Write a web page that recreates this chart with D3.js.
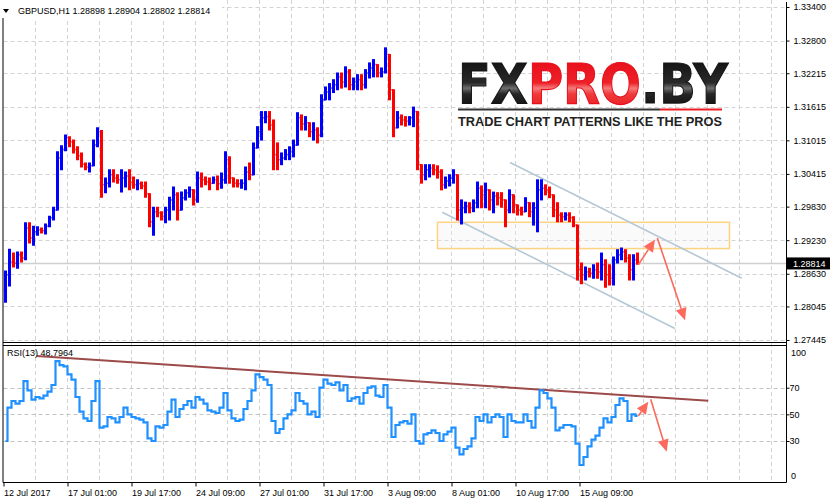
<!DOCTYPE html>
<html>
<head>
<meta charset="utf-8">
<script src="https://d3js.org/d3.v7.min.js"></script>
<style>
  body { margin: 0; background: #fff; }
  svg { display: block; font-family: "Liberation Sans", Arial, sans-serif; }
</style>
</head>
<body>
<svg id="chart" width="830" height="504"></svg>
<script>
// header quote
const symbol = 'GBPUSD,H1';
const lastQuote = ['1.28898', '1.28904', '1.28802', '1.28814'];
const lastPrice = 1.28814;

// time axis (hours from first bar) and labels
const timeHours = [0, 64, 128, 192, 256, 320, 384, 448, 512, 576];
const timeLabels = ['12 Jul 2017', '17 Jul 01:00', '19 Jul 17:00', '24 Jul 09:00', '27 Jul 01:00',
  '31 Jul 17:00', '3 Aug 09:00', '8 Aug 01:00', '10 Aug 17:00', '15 Aug 09:00'];

// price axis
const priceTicks = [1.33400, 1.32800, 1.32215, 1.31615, 1.31015, 1.30415, 1.29830, 1.29230, 1.28630, 1.28045, 1.27445];
const rsiGrid = [70, 50, 30];
const rsiLast = '48.7964';

// 4-hour bars
const barOpen = [
  1.2834, 1.2861, 1.2884, 1.2882, 1.2897, 1.2891, 1.2945, 1.2927, 1.2938, 1.2941,
  1.2940, 1.2948, 1.2963, 1.2977, 1.3070, 1.3085, 1.3106, 1.3099, 1.3085, 1.3074,
  1.3059, 1.3054, 1.3056, 1.3093, 1.3117, 1.3022, 1.3025, 1.3040, 1.3034, 1.3031,
  1.3034, 1.3038, 1.3027, 1.3022, 1.3024, 1.3020, 1.3006, 1.2956, 1.2974, 1.2972,
  1.2966, 1.2977, 1.2995, 1.3004, 1.2977, 1.2999, 1.3008, 1.3013, 1.2995, 1.3034,
  1.3031, 1.3027, 1.3025, 1.3031, 1.3024, 1.3031, 1.3067, 1.3034, 1.3025, 1.3024,
  1.3025, 1.3045, 1.3040, 1.3088, 1.3117, 1.3142, 1.3144, 1.3129, 1.3076, 1.3067,
  1.3070, 1.3076, 1.3081, 1.3093, 1.3142, 1.3131, 1.3133, 1.3117, 1.3120, 1.3111,
  1.3174, 1.3188, 1.3195, 1.3201, 1.3215, 1.3206, 1.3224, 1.3201, 1.3206, 1.3210,
  1.3201, 1.3222, 1.3231, 1.3237, 1.3222, 1.3224, 1.3255, 1.3192, 1.3124, 1.3142,
  1.3138, 1.3136, 1.3142, 1.3153, 1.3058, 1.3040, 1.3049, 1.3052, 1.3049, 1.3045,
  1.3022, 1.3029, 1.3034, 1.3040, 1.2977, 1.2981, 1.2984, 1.2981, 1.2990, 1.3016,
  1.3004, 1.3013, 1.2995, 1.3002, 1.2999, 1.2995, 1.2977, 1.3004, 1.2986, 1.2977,
  1.2974, 1.2990, 1.2974, 1.2981, 1.3013, 1.3016, 1.3013, 1.3004, 1.2977, 1.2968,
  1.2965, 1.2968, 1.2963, 1.2950, 1.2870, 1.2861, 1.2866, 1.2864, 1.2870, 1.2866,
  1.2879, 1.2861, 1.2855, 1.2888, 1.2897, 1.2902, 1.2891, 1.2870, 1.2888
];
const barHigh = [
  1.2868, 1.2907, 1.2900, 1.2902, 1.2902, 1.2954, 1.2954, 1.2948, 1.2947, 1.2945,
  1.2952, 1.2966, 1.2982, 1.3081, 1.3092, 1.3111, 1.3108, 1.3102, 1.3090, 1.3079,
  1.3061, 1.3061, 1.3102, 1.3124, 1.3119, 1.3034, 1.3049, 1.3049, 1.3040, 1.3049,
  1.3045, 1.3049, 1.3036, 1.3031, 1.3027, 1.3027, 1.3006, 1.2982, 1.2982, 1.2974,
  1.2982, 1.3000, 1.3018, 1.3008, 1.3009, 1.3013, 1.3018, 1.3013, 1.3045, 1.3043,
  1.3036, 1.3034, 1.3036, 1.3038, 1.3043, 1.3081, 1.3072, 1.3034, 1.3031, 1.3031,
  1.3054, 1.3061, 1.3097, 1.3126, 1.3153, 1.3153, 1.3153, 1.3138, 1.3097, 1.3079,
  1.3085, 1.3090, 1.3102, 1.3151, 1.3147, 1.3144, 1.3133, 1.3133, 1.3124, 1.3183,
  1.3197, 1.3203, 1.3210, 1.3222, 1.3222, 1.3233, 1.3228, 1.3213, 1.3219, 1.3219,
  1.3228, 1.3240, 1.3246, 1.3237, 1.3231, 1.3267, 1.3255, 1.3192, 1.3153, 1.3147,
  1.3144, 1.3144, 1.3161, 1.3153, 1.3058, 1.3058, 1.3058, 1.3058, 1.3056, 1.3049,
  1.3036, 1.3040, 1.3049, 1.3040, 1.2995, 1.2991, 1.2990, 1.2995, 1.3027, 1.3020,
  1.3025, 1.3013, 1.3009, 1.3008, 1.3008, 1.2995, 1.3013, 1.3004, 1.2986, 1.2982,
  1.2999, 1.2990, 1.2990, 1.3031, 1.3031, 1.3022, 1.3018, 1.3004, 1.2990, 1.2972,
  1.2972, 1.2972, 1.2965, 1.2950, 1.2882, 1.2875, 1.2873, 1.2879, 1.2882, 1.2900,
  1.2888, 1.2879, 1.2893, 1.2906, 1.2909, 1.2906, 1.2897, 1.2897, 1.2900
];
const barLow = [
  1.2812, 1.2841, 1.2875, 1.2873, 1.2884, 1.2888, 1.2918, 1.2914, 1.2932, 1.2936,
  1.2934, 1.2947, 1.2959, 1.2977, 1.3049, 1.3083, 1.3090, 1.3079, 1.3067, 1.3054,
  1.3049, 1.3045, 1.3056, 1.3090, 1.3000, 1.3008, 1.3018, 1.3027, 1.3025, 1.3009,
  1.3018, 1.3013, 1.3016, 1.3013, 1.3015, 1.3000, 1.2947, 1.2932, 1.2965, 1.2959,
  1.2954, 1.2959, 1.2977, 1.2959, 1.2977, 1.2995, 1.3000, 1.2986, 1.2991, 1.3018,
  1.3022, 1.3013, 1.3025, 1.3013, 1.3016, 1.3025, 1.3025, 1.3018, 1.3018, 1.3016,
  1.3013, 1.3031, 1.3040, 1.3088, 1.3102, 1.3133, 1.3120, 1.3049, 1.3049, 1.3058,
  1.3067, 1.3067, 1.3072, 1.3093, 1.3120, 1.3120, 1.3108, 1.3102, 1.3097, 1.3108,
  1.3174, 1.3174, 1.3187, 1.3192, 1.3195, 1.3197, 1.3192, 1.3192, 1.3192, 1.3192,
  1.3195, 1.3213, 1.3215, 1.3215, 1.3215, 1.3222, 1.3174, 1.3108, 1.3124, 1.3129,
  1.3127, 1.3129, 1.3126, 1.3049, 1.3025, 1.3031, 1.3036, 1.3040, 1.3034, 1.3013,
  1.3016, 1.3020, 1.3025, 1.2959, 1.2952, 1.2972, 1.2972, 1.2974, 1.2981, 1.2981,
  1.2981, 1.2977, 1.2972, 1.2986, 1.2982, 1.2947, 1.2972, 1.2972, 1.2968, 1.2968,
  1.2974, 1.2965, 1.2950, 1.2938, 1.2995, 1.3004, 1.2999, 1.2965, 1.2956, 1.2956,
  1.2959, 1.2956, 1.2947, 1.2852, 1.2845, 1.2852, 1.2857, 1.2855, 1.2855, 1.2852,
  1.2839, 1.2843, 1.2843, 1.2882, 1.2888, 1.2884, 1.2852, 1.2852, 1.2880
];
const barClose = [
  1.2861, 1.2884, 1.2882, 1.2897, 1.2891, 1.2945, 1.2927, 1.2938, 1.2941, 1.2940,
  1.2948, 1.2963, 1.2977, 1.3070, 1.3085, 1.3106, 1.3099, 1.3085, 1.3074, 1.3059,
  1.3054, 1.3056, 1.3093, 1.3117, 1.3022, 1.3025, 1.3040, 1.3034, 1.3031, 1.3034,
  1.3038, 1.3027, 1.3022, 1.3024, 1.3020, 1.3006, 1.2956, 1.2974, 1.2972, 1.2966,
  1.2977, 1.2995, 1.3004, 1.2977, 1.2999, 1.3008, 1.3013, 1.2995, 1.3034, 1.3031,
  1.3027, 1.3025, 1.3031, 1.3024, 1.3031, 1.3067, 1.3034, 1.3025, 1.3024, 1.3025,
  1.3045, 1.3040, 1.3088, 1.3117, 1.3142, 1.3144, 1.3129, 1.3076, 1.3067, 1.3070,
  1.3076, 1.3081, 1.3093, 1.3142, 1.3131, 1.3133, 1.3117, 1.3120, 1.3111, 1.3174,
  1.3188, 1.3195, 1.3201, 1.3215, 1.3206, 1.3224, 1.3201, 1.3206, 1.3210, 1.3201,
  1.3222, 1.3231, 1.3237, 1.3222, 1.3224, 1.3255, 1.3192, 1.3124, 1.3142, 1.3138,
  1.3136, 1.3142, 1.3153, 1.3058, 1.3040, 1.3049, 1.3052, 1.3049, 1.3045, 1.3022,
  1.3029, 1.3034, 1.3040, 1.2977, 1.2981, 1.2984, 1.2981, 1.2990, 1.3016, 1.3004,
  1.3013, 1.2995, 1.3002, 1.2999, 1.2995, 1.2977, 1.3004, 1.2986, 1.2977, 1.2974,
  1.2990, 1.2974, 1.2981, 1.3013, 1.3016, 1.3013, 1.3004, 1.2977, 1.2968, 1.2965,
  1.2968, 1.2963, 1.2950, 1.2870, 1.2861, 1.2866, 1.2864, 1.2870, 1.2866, 1.2879,
  1.2861, 1.2855, 1.2888, 1.2897, 1.2902, 1.2891, 1.2870, 1.2888, 1.2881
];

// RSI(13), one value per bar above
const rsiValues = [
  30, 55, 60, 58, 60, 75, 68, 61, 63, 62,
  64, 67, 72, 90, 87, 86, 80, 76, 63, 52,
  47, 45, 60, 75, 40, 41, 48, 47, 44, 48,
  55, 50, 48, 47, 46, 44, 32, 30, 41, 40,
  42, 52, 61, 48, 54, 57, 60, 55, 63, 61,
  58, 53, 52, 51, 55, 66, 53, 47, 45, 46,
  54, 60, 68, 80, 78, 76, 72, 45, 36, 39,
  47, 50, 53, 66, 60, 58, 50, 52, 48, 70,
  76, 73, 72, 74, 68, 72, 60, 62, 63, 58,
  66, 70, 71, 64, 63, 72, 55, 33, 42, 44,
  45, 43, 50, 30, 28, 35, 36, 38, 36, 30,
  35, 37, 40, 25, 20, 24, 26, 32, 48, 45,
  50, 44, 48, 50, 48, 33, 50, 45, 44, 44,
  50, 45, 40, 55, 68, 66, 62, 55, 38, 40,
  42, 42, 41, 28, 12, 18, 26, 31, 34, 40,
  47, 44, 48, 57, 62, 60, 45, 50, 48.8
];

// drawn annotations: [hour, price] and [hour, rsi]
const zoneHours = [434, 726];
const zonePrices = [1.2955, 1.2908];
const channelUpper = [[506.5, 1.3062], [738.2, 1.2855]];
const channelLower = [[438.8, 1.2973], [671.5, 1.2765]];
const priceArrows = [[[634.8, 1.2879], [651.5, 1.2924]], [[653.8, 1.2927], [681.5, 1.2780]]];
const rsiTrend = [[33.2, 93.8], [704.8, 60.2]];
const rsiArrows = [[[634.8, 48.8], [644.8, 59.5]], [[647.2, 61.3], [663.2, 22]]];

const svg = d3.select('#chart');
const plotLeft = 3.5, plotRight = 786.5;
const mainBottom = 342.5, rsiTop = 345.5, rsiBottom = 482.5;

// scales: one pixel per hour
const x = d3.scaleLinear().domain([0, 780]).range([3.5, 783.5]);
const y = d3.scaleLinear().domain([1.27445, 1.33400]).range([340, 7]);
const ry = d3.scaleLinear().domain([0, 100]).range([481, 347.7]);

svg.append('rect').attr('width', 830).attr('height', 504).attr('fill', '#fff');

const defs = svg.append('defs');
defs.append('clipPath').attr('id', 'clipMain').append('rect')
  .attr('x', plotLeft).attr('y', 0).attr('width', plotRight - plotLeft).attr('height', mainBottom);
defs.append('clipPath').attr('id', 'clipRsi').append('rect')
  .attr('x', plotLeft).attr('y', rsiTop).attr('width', plotRight - plotLeft).attr('height', rsiBottom - rsiTop);

// grid
const grid = svg.append('g').attr('stroke', '#d3d3d3').attr('stroke-dasharray', '4,3');
grid.selectAll('.vg').data(d3.range(32, 781, 32)).enter().append('line')
  .attr('x1', d => x(d)).attr('x2', d => x(d)).attr('y1', 0).attr('y2', rsiBottom);
grid.selectAll('.hg').data(priceTicks).enter().append('line')
  .attr('x1', plotLeft).attr('x2', plotRight).attr('y1', d => Math.round(y(d)) + 0.5).attr('y2', d => Math.round(y(d)) + 0.5);
grid.selectAll('.rg').data(rsiGrid).enter().append('line')
  .attr('x1', plotLeft).attr('x2', plotRight).attr('y1', d => Math.round(ry(d)) + 0.5).attr('y2', d => Math.round(ry(d)) + 0.5)
  .attr('stroke', '#c4c4c4');

// current price line
svg.append('line').attr('x1', plotLeft).attr('x2', plotRight)
  .attr('y1', Math.round(y(lastPrice)) + 0.5).attr('y2', Math.round(y(lastPrice)) + 0.5)
  .attr('stroke', '#d0d0d0').attr('stroke-width', 1.5);

const main = svg.append('g').attr('clip-path', 'url(#clipMain)');

// support zone
main.append('rect')
  .attr('x', x(zoneHours[0])).attr('y', y(zonePrices[0]))
  .attr('width', x(zoneHours[1]) - x(zoneHours[0])).attr('height', y(zonePrices[1]) - y(zonePrices[0]))
  .attr('fill', 'rgba(238,238,238,0.3)').attr('stroke', '#fcd283').attr('stroke-width', 1.5);

// channel
[channelUpper, channelLower].forEach(c => {
  main.append('line')
    .attr('x1', x(c[0][0])).attr('y1', y(c[0][1])).attr('x2', x(c[1][0])).attr('y2', y(c[1][1]))
    .attr('stroke', '#b4c8d6').attr('stroke-width', 1.6);
});

// bars
const bars = main.append('g');
barClose.forEach((c, i) => {
  const o = barOpen[i];
  const cx = x(4 * i + 2);
  const col = c >= o ? '#0000ff' : '#ff0000';
  const b = bars.append('g').attr('stroke', col);
  b.append('line').attr('x1', cx).attr('x2', cx).attr('y1', y(barHigh[i]) - 0.5).attr('y2', y(barLow[i]) + 0.5).attr('stroke-width', 3);
  b.append('line').attr('x1', cx - 1.8).attr('x2', cx).attr('y1', y(o)).attr('y2', y(o)).attr('stroke-width', 1.5);
  b.append('line').attr('x1', cx).attr('x2', cx + 1.8).attr('y1', y(c)).attr('y2', y(c)).attr('stroke-width', 1.5);
});

function arrow(g, p0, p1, color) {
  const a = Math.atan2(p1[1] - p0[1], p1[0] - p0[0]);
  const L = 12, w = 5.5;
  const bx = p1[0] - L * Math.cos(a), by = p1[1] - L * Math.sin(a);
  g.append('line').attr('x1', p0[0]).attr('y1', p0[1]).attr('x2', bx).attr('y2', by)
    .attr('stroke', color).attr('stroke-width', 1.6);
  g.append('path')
    .attr('d', `M${p1[0]},${p1[1]}L${bx - w * Math.sin(a)},${by + w * Math.cos(a)}L${bx + w * Math.sin(a)},${by - w * Math.cos(a)}Z`)
    .attr('fill', color);
}
const arrowColor = '#fb6a5c';
priceArrows.forEach(a => arrow(main, [x(a[0][0]), y(a[0][1])], [x(a[1][0]), y(a[1][1])], arrowColor));

// logo
const darkGrad = defs.append('linearGradient').attr('id', 'logoDark')
  .attr('gradientUnits', 'objectBoundingBox').attr('x1', 0).attr('x2', 0).attr('y1', 0.15).attr('y2', 0.9);
[[0, '#141414'], [0.45, '#2a2a2a'], [0.56, '#6e6e6e'], [0.68, '#262626'], [1, '#0e0e0e']]
  .forEach(s => darkGrad.append('stop').attr('offset', s[0]).attr('stop-color', s[1]));
const redGrad = defs.append('linearGradient').attr('id', 'logoRed')
  .attr('gradientUnits', 'objectBoundingBox').attr('x1', 0).attr('x2', 0).attr('y1', 0.15).attr('y2', 0.9);
[[0, '#e8101c'], [0.45, '#ee2028'], [0.56, '#f47c7c'], [0.68, '#ef3a3a'], [1, '#e81c22']]
  .forEach(s => redGrad.append('stop').attr('offset', s[0]).attr('stop-color', s[1]));

const logoWord = svg.append('g').attr('transform', 'translate(458,103)');
const big = logoWord.append('text').attr('x', 0).attr('y', 0)
  .attr('font-family', '"DejaVu Sans", sans-serif').attr('font-weight', 'bold').attr('font-size', 56)
  .attr('stroke-width', 1.2);
big.append('tspan').attr('fill', 'url(#logoDark)').attr('stroke', '#151515').text('FX');
big.append('tspan').attr('fill', 'url(#logoRed)').attr('stroke', '#e8101c').text('PRO');
big.append('tspan').attr('fill', 'url(#logoDark)').attr('stroke', '#151515').text('.BY');
const natural = big.node().getComputedTextLength() || 303;
logoWord.attr('transform', `translate(458,103) scale(${269 / natural},1)`);

svg.append('line').attr('x1', 458).attr('x2', 660).attr('y1', 109.5).attr('y2', 109.5).attr('stroke', '#333').attr('stroke-width', 2);
svg.append('line').attr('x1', 660).attr('x2', 722).attr('y1', 109.5).attr('y2', 109.5).attr('stroke', '#ee1c25').attr('stroke-width', 2);
svg.append('text').attr('x', 458).attr('y', 125.5)
  .attr('font-family', '"Liberation Sans", Arial, sans-serif').attr('font-weight', 'bold').attr('font-size', 13.5)
  .attr('textLength', 264).attr('lengthAdjust', 'spacingAndGlyphs').attr('fill', '#222')
  .text('TRADE CHART PATTERNS LIKE THE PROS');

// RSI panel
const rsiG = svg.append('g').attr('clip-path', 'url(#clipRsi)');
rsiG.append('line')
  .attr('x1', x(rsiTrend[0][0])).attr('y1', ry(rsiTrend[0][1])).attr('x2', x(rsiTrend[1][0])).attr('y2', ry(rsiTrend[1][1]))
  .attr('stroke', '#9c4a4a').attr('stroke-width', 2);
rsiG.append('path').datum(rsiValues)
  .attr('fill', 'none').attr('stroke', '#1e90ff').attr('stroke-width', 2.2)
  .attr('d', d3.line().curve(d3.curveStep).x((d, i) => x(4 * i + 2)).y(d => ry(d)));
rsiArrows.forEach(a => arrow(rsiG, [x(a[0][0]), ry(a[0][1])], [x(a[1][0]), ry(a[1][1])], arrowColor));

// frames
const frame = svg.append('g').attr('stroke', '#000').attr('stroke-width', 1).attr('fill', 'none');
frame.append('line').attr('x1', plotLeft - 0.5).attr('x2', plotLeft - 0.5).attr('y1', 0).attr('y2', rsiBottom);
frame.append('line').attr('x1', plotRight).attr('x2', plotRight).attr('y1', 2).attr('y2', rsiBottom);
frame.append('line').attr('x1', plotLeft - 0.5).attr('x2', plotRight).attr('y1', mainBottom).attr('y2', mainBottom);
frame.append('line').attr('x1', plotLeft - 0.5).attr('x2', plotRight).attr('y1', rsiTop).attr('y2', rsiTop);
frame.append('line').attr('x1', plotLeft - 0.5).attr('x2', plotRight).attr('y1', rsiBottom).attr('y2', rsiBottom);

// price axis
svg.append('g').attr('transform', `translate(${plotRight},0)`)
  .call(d3.axisRight(y).tickValues(priceTicks).tickSize(3).tickPadding(4).tickFormat(d3.format('.5f')))
  .call(g => g.select('.domain').remove())
  .call(g => g.attr('font-family', '"Liberation Sans", Arial, sans-serif').attr('font-size', 9))
  .call(g => g.selectAll('text').attr('fill', '#000'));

// current price tag
const tag = svg.append('g').attr('transform', `translate(${plotRight + 0.5},${y(lastPrice)})`);
tag.append('rect').attr('x', 0).attr('y', -6).attr('width', 44).attr('height', 12).attr('fill', '#000');
tag.append('text').attr('x', 6).attr('dy', '0.35em').attr('fill', '#fff').attr('font-size', 9).text(lastQuote[3]);

// RSI axis
svg.append('g').attr('transform', `translate(${plotRight},0)`)
  .call(d3.axisRight(ry).tickValues(rsiGrid).tickSize(3).tickPadding(0))
  .call(g => g.select('.domain').remove())
  .call(g => g.attr('font-family', '"Liberation Sans", Arial, sans-serif').attr('font-size', 9))
  .call(g => g.selectAll('text').attr('fill', '#000'));
svg.append('text').attr('x', 791).attr('y', ry(100) + 5).attr('dy', '0.35em').attr('font-size', 9).text('100');
svg.append('text').attr('x', 791).attr('y', ry(0) - 5).attr('dy', '0.35em').attr('font-size', 9).text('0');
svg.append('text').attr('x', 7).attr('y', 353).attr('dy', '0.35em').attr('font-size', 9)
  .text(`RSI(13) ${rsiLast}`);

// time axis
svg.append('g').attr('transform', `translate(0,${rsiBottom})`)
  .call(d3.axisBottom(x).tickValues(timeHours).tickSize(4).tickPadding(3).tickFormat((d, i) => timeLabels[i]))
  .call(g => g.select('.domain').remove())
  .call(g => g.attr('font-family', '"Liberation Sans", Arial, sans-serif').attr('font-size', 9))
  .call(g => g.selectAll('text').attr('text-anchor', 'start').attr('fill', '#000'));

// header
svg.append('rect').attr('x', 0).attr('y', 0).attr('width', 222).attr('height', 18).attr('fill', '#fff');
svg.append('path').attr('d', 'M3,9L9,9L6,13Z').attr('fill', '#000');
svg.append('text').attr('x', 18).attr('y', 14).attr('font-size', 9)
  .text(`${symbol}  ${lastQuote.join(' ')}`);
</script>
</body>
</html>
